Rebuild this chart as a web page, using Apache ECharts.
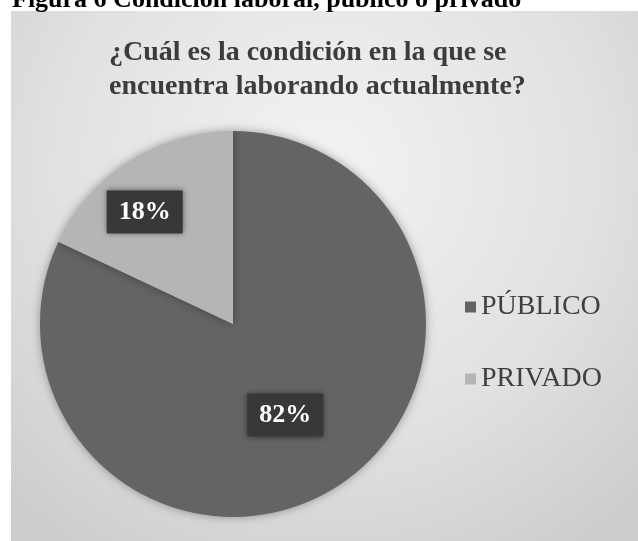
<!DOCTYPE html>
<html>
<head>
<meta charset="utf-8">
<script src="https://cdn.jsdelivr.net/npm/echarts@6/dist/echarts.min.js"></script>
<style>
  html, body { margin: 0; padding: 0; background: #ffffff; }
  #chart { width: 638px; height: 541px; }
</style>
</head>
<body>
<div id="chart"></div>
<script>
// Survey answers: share of respondents by employment sector
const categories = ['PÚBLICO', 'PRIVADO'];
const shares = [82, 18];
const sliceColors = ['#646464', '#b5b5b5'];

const headingText = 'Figura 6 Condición laboral, público o privado';
const questionText = '¿Cuál es la condición en la que se\nencuentra laborando actualmente?';

// Nudges for the percentage boxes relative to the slice midpoints
const labelNudge = [
  { dx: -1, dy: 7 },
  { dx: -35, dy: -28 }
];

const serif = '"Liberation Serif", "Times New Roman", serif';

const chart = echarts.init(document.getElementById('chart'), null, { renderer: 'canvas' });

chart.setOption({
  animation: false,
  graphic: [
    {
      type: 'rect',
      z: -10,
      shape: { x: 11, y: 11, width: 627, height: 530 },
      style: {
        fill: {
          type: 'radial', x: 0.5, y: 0.3, r: 0.85,
          colorStops: [
            { offset: 0, color: '#f3f3f3' },
            { offset: 0.6, color: '#e1e1e1' },
            { offset: 1, color: '#cdcdcd' }
          ]
        }
      }
    },
    {
      type: 'text',
      z: 10,
      x: 12,
      y: 0,
      style: {
        text: headingText,
        font: 'bold 26px ' + serif,
        fill: '#000000',
        verticalAlign: 'middle',
        align: 'left'
      }
    },
    {
      type: 'text',
      z: 10,
      x: 109,
      y: 36,
      style: {
        text: questionText,
        font: 'bold 28px ' + serif,
        lineHeight: 34,
        fill: '#3c3c3c',
        verticalAlign: 'top',
        align: 'left'
      }
    }
  ],
  legend: {
    orient: 'vertical',
    left: 460,
    top: 288,
    itemWidth: 11,
    itemHeight: 11,
    itemGap: 44,
    icon: 'rect',
    selectedMode: false,
    data: categories,
    textStyle: {
      fontFamily: serif,
      fontSize: 28,
      lineHeight: 28,
      color: '#404040'
    }
  },
  series: [
    {
      type: 'pie',
      center: [233, 324],
      radius: [0, 193],
      startAngle: 90,
      clockwise: true,
      avoidLabelOverlap: false,
      emphasis: { disabled: true },
      itemStyle: {
        shadowBlur: 10,
        shadowColor: 'rgba(0,0,0,0.35)',
        borderWidth: 0
      },
      label: {
        show: true,
        position: 'inside',
        formatter: '{c}%',
        fontFamily: serif,
        fontWeight: 'bold',
        fontSize: 26,
        color: '#ffffff',
        backgroundColor: '#383838',
        padding: [9, 12, 8, 12],
        shadowBlur: 6,
        shadowColor: 'rgba(0,0,0,0.5)'
      },
      labelLine: { show: false },
      labelLayout: function (p) {
        return labelNudge[p.dataIndex];
      },
      data: categories.map(function (name, i) {
        return { name: name, value: shares[i], itemStyle: { color: sliceColors[i] } };
      })
    }
  ]
});
</script>
</body>
</html>
